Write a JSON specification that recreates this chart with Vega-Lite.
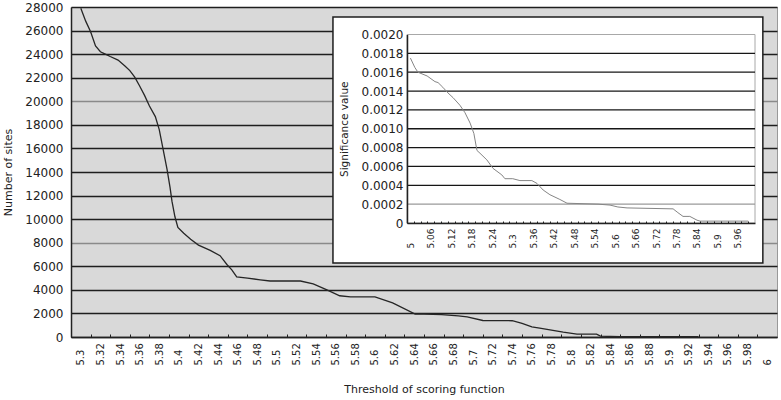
{
  "$schema": "https://vega.github.io/schema/vega-lite/v6.json",
  "width": 706,
  "height": 330,
  "autosize": {"type": "none"},
  "padding": {"left": 71, "top": 7, "right": 4, "bottom": 63},
  "background": "white",
  "config": {
    "view": {"fill": "#d9d9d9", "stroke": "#999999"},
    "font": "DejaVu Sans",
    "axis": {
      "labelFont": "DejaVu Sans",
      "titleFont": "DejaVu Sans",
      "labelColor": "#222222",
      "titleColor": "#222222",
      "titleFontWeight": "normal",
      "domainColor": "#222222",
      "tickColor": "#222222",
      "labelOverlap": false
    }
  },
  "datasets": {
    "main": [
      {"threshold": 5.300, "sites": 27900},
      {"threshold": 5.305, "sites": 26800},
      {"threshold": 5.310, "sites": 25900},
      {"threshold": 5.315, "sites": 24700},
      {"threshold": 5.320, "sites": 24200},
      {"threshold": 5.325, "sites": 24000},
      {"threshold": 5.330, "sites": 23800},
      {"threshold": 5.338, "sites": 23500},
      {"threshold": 5.345, "sites": 23000},
      {"threshold": 5.350, "sites": 22600},
      {"threshold": 5.355, "sites": 22050},
      {"threshold": 5.360, "sites": 21300},
      {"threshold": 5.365, "sites": 20500},
      {"threshold": 5.370, "sites": 19600},
      {"threshold": 5.376, "sites": 18700},
      {"threshold": 5.380, "sites": 17600},
      {"threshold": 5.384, "sites": 15900},
      {"threshold": 5.388, "sites": 14200},
      {"threshold": 5.391, "sites": 12700},
      {"threshold": 5.393, "sites": 11500},
      {"threshold": 5.396, "sites": 10200},
      {"threshold": 5.399, "sites": 9300},
      {"threshold": 5.405, "sites": 8800},
      {"threshold": 5.412, "sites": 8300},
      {"threshold": 5.420, "sites": 7800},
      {"threshold": 5.432, "sites": 7350},
      {"threshold": 5.442, "sites": 6900},
      {"threshold": 5.449, "sites": 6150},
      {"threshold": 5.454, "sites": 5700},
      {"threshold": 5.459, "sites": 5100},
      {"threshold": 5.470, "sites": 5000},
      {"threshold": 5.483, "sites": 4850},
      {"threshold": 5.493, "sites": 4750},
      {"threshold": 5.524, "sites": 4750},
      {"threshold": 5.537, "sites": 4500},
      {"threshold": 5.551, "sites": 4000},
      {"threshold": 5.564, "sites": 3500},
      {"threshold": 5.575, "sites": 3400},
      {"threshold": 5.600, "sites": 3400},
      {"threshold": 5.618, "sites": 2900},
      {"threshold": 5.641, "sites": 1950},
      {"threshold": 5.650, "sites": 1950},
      {"threshold": 5.668, "sites": 1900},
      {"threshold": 5.685, "sites": 1800},
      {"threshold": 5.694, "sites": 1700},
      {"threshold": 5.710, "sites": 1400},
      {"threshold": 5.740, "sites": 1380},
      {"threshold": 5.750, "sites": 1150},
      {"threshold": 5.760, "sites": 850},
      {"threshold": 5.768, "sites": 760},
      {"threshold": 5.792, "sites": 420},
      {"threshold": 5.806, "sites": 250},
      {"threshold": 5.826, "sites": 250},
      {"threshold": 5.830, "sites": 80},
      {"threshold": 5.850, "sites": 20},
      {"threshold": 5.930, "sites": 20}
    ],
    "inset": [
      {"threshold": 5.000, "significance": 0.00175},
      {"threshold": 5.013, "significance": 0.00165},
      {"threshold": 5.022, "significance": 0.00160},
      {"threshold": 5.049, "significance": 0.00156},
      {"threshold": 5.072, "significance": 0.00150},
      {"threshold": 5.081, "significance": 0.00149},
      {"threshold": 5.095, "significance": 0.00144},
      {"threshold": 5.110, "significance": 0.00138},
      {"threshold": 5.125, "significance": 0.00133},
      {"threshold": 5.145, "significance": 0.00125},
      {"threshold": 5.160, "significance": 0.00117},
      {"threshold": 5.175, "significance": 0.00106},
      {"threshold": 5.186, "significance": 0.00095},
      {"threshold": 5.195, "significance": 0.00077},
      {"threshold": 5.204, "significance": 0.00074},
      {"threshold": 5.224, "significance": 0.00067},
      {"threshold": 5.242, "significance": 0.00058},
      {"threshold": 5.268, "significance": 0.00051},
      {"threshold": 5.277, "significance": 0.00047},
      {"threshold": 5.300, "significance": 0.00047},
      {"threshold": 5.321, "significance": 0.00045},
      {"threshold": 5.356, "significance": 0.00045},
      {"threshold": 5.371, "significance": 0.00042},
      {"threshold": 5.389, "significance": 0.00035},
      {"threshold": 5.409, "significance": 0.00030},
      {"threshold": 5.438, "significance": 0.00025},
      {"threshold": 5.459, "significance": 0.00021},
      {"threshold": 5.550, "significance": 0.00020},
      {"threshold": 5.585, "significance": 0.00019},
      {"threshold": 5.608, "significance": 0.00017},
      {"threshold": 5.635, "significance": 0.00016},
      {"threshold": 5.770, "significance": 0.00015},
      {"threshold": 5.784, "significance": 0.00011},
      {"threshold": 5.799, "significance": 0.00007},
      {"threshold": 5.819, "significance": 0.00007},
      {"threshold": 5.840, "significance": 0.00003},
      {"threshold": 5.849, "significance": 0.00002},
      {"threshold": 5.990, "significance": 0.00002}
    ],
    "insetGrid": [
      {"level": 0.0002}, {"level": 0.0004}, {"level": 0.0006}, {"level": 0.0008},
      {"level": 0.0010}, {"level": 0.0012}, {"level": 0.0014}, {"level": 0.0016}, {"level": 0.0018}
    ],
    "one": [{}]
  },
  "layer": [
    {
      "data": {"name": "main"},
      "mark": {"type": "line", "color": "#262626", "strokeWidth": 1.3},
      "encoding": {
        "x": {
          "field": "threshold", "type": "quantitative",
          "scale": {"domain": [5.29, 6.01], "nice": false, "zero": false},
          "axis": {
            "orient": "bottom",
            "title": "Threshold of scoring function",
            "titleFontSize": 11,
            "titlePadding": 18,
            "values": [5.29,5.31,5.33,5.35,5.37,5.39,5.41,5.43,5.45,5.47,5.49,5.51,5.53,5.55,5.57,5.59,5.61,5.63,5.65,5.67,5.69,5.71,5.73,5.75,5.77,5.79,5.81,5.83,5.85,5.87,5.89,5.91,5.93,5.95,5.97,5.99],
            "labelExpr": "format(round((datum.value + 0.01) * 100) / 100, '~g')",
            "labelOffset": 9.8,
            "labelAngle": -90,
            "labelAlign": "left",
            "labelBaseline": "middle",
            "labelFontSize": 10,
            "labelPadding": 31,
            "tickSize": -3,
            "grid": false,
            "labelOverlap": false,
            "labelFlush": false,
            "labelBound": false,
            "domainWidth": 1.5
          }
        },
        "y": {
          "field": "sites", "type": "quantitative",
          "scale": {"domain": [0, 28000], "nice": false},
          "axis": {
            "orient": "left",
            "title": "Number of sites",
            "titleFontSize": 11,
            "titlePadding": 11,
            "values": [0,2000,4000,6000,8000,10000,12000,14000,16000,18000,20000,22000,24000,26000,28000],
            "format": "d",
            "labelFontSize": 12,
            "labelPadding": 8,
            "labelOverlap": false,
            "ticks": false,
            "grid": true,
            "gridWidth": 1.5,
            "gridColor": {"condition": {"test": "datum.value == 20000 || datum.value == 8000", "value": "#8a8a8a"}, "value": "#1e1e1e"},
            "domainWidth": 1.5
          }
        }
      }
    },
    {
      "layer": [
        {
          "data": {"name": "one"},
          "mark": {"type": "rect", "fill": "white", "stroke": "#1e1e1e", "strokeWidth": 1.5},
          "encoding": {
            "x": {"datum": 4.773, "type": "quantitative",
                  "scale": {"domain": [4.99, 6.01], "range": [336, 684], "nice": false, "zero": false},
                  "axis": {
                    "orient": "bottom", "offset": -114, "zindex": 1, "title": null,
                    "values": [4.99,5.01,5.03,5.05,5.07,5.09,5.11,5.13,5.15,5.17,5.19,5.21,5.23,5.25,5.27,5.29,5.31,5.33,5.35,5.37,5.39,5.41,5.43,5.45,5.47,5.49,5.51,5.53,5.55,5.57,5.59,5.61,5.63,5.65,5.67,5.69,5.71,5.73,5.75,5.77,5.79,5.81,5.83,5.85,5.87,5.89,5.91,5.93,5.95,5.97,5.99],
                    "labelExpr": "(round((datum.value + 0.01) * 100) - 500) % 6 == 0 ? format(round((datum.value + 0.01) * 100) / 100, '~g') : ''",
                    "labelOffset": 3.4, "labelAngle": -90, "labelAlign": "left", "labelBaseline": "middle",
                    "labelFontSize": 9, "labelPadding": 27, "tickSize": -2, "grid": false,
                    "labelOverlap": false, "labelFlush": false, "labelBound": false, "domainWidth": 1.5
                  }},
            "x2": {"datum": 6.033},
            "y": {"datum": 0.002186, "type": "quantitative",
                  "scale": {"domain": [0, 0.002], "range": [216, 27.5], "nice": false, "zero": false},
                  "axis": {
                    "orient": "left", "offset": -336, "zindex": 1,
                    "title": "Significance value", "titleFontSize": 10.5, "titlePadding": 12,
                    "values": [0,0.0002,0.0004,0.0006,0.0008,0.001,0.0012,0.0014,0.0016,0.0018,0.002],
                    "labelExpr": "datum.value == 0 ? '0' : format(datum.value, '.4f')",
                    "labelFontSize": 12, "labelPadding": 4, "labelOverlap": false,
                    "ticks": false, "grid": false, "domainWidth": 1.5
                  }},
            "y2": {"datum": -0.000424}
          }
        },
        {
          "data": {"name": "one"},
          "mark": {"type": "rect", "fill": "white", "stroke": "#a8a8a8", "strokeWidth": 1},
          "encoding": {
            "x": {"datum": 4.99, "type": "quantitative",
                  "scale": {"domain": [4.99, 6.01], "range": [336, 684], "nice": false, "zero": false},
                  "axis": {
                    "orient": "bottom", "offset": -114, "zindex": 1, "title": null,
                    "values": [4.99,5.01,5.03,5.05,5.07,5.09,5.11,5.13,5.15,5.17,5.19,5.21,5.23,5.25,5.27,5.29,5.31,5.33,5.35,5.37,5.39,5.41,5.43,5.45,5.47,5.49,5.51,5.53,5.55,5.57,5.59,5.61,5.63,5.65,5.67,5.69,5.71,5.73,5.75,5.77,5.79,5.81,5.83,5.85,5.87,5.89,5.91,5.93,5.95,5.97,5.99],
                    "labelExpr": "(round((datum.value + 0.01) * 100) - 500) % 6 == 0 ? format(round((datum.value + 0.01) * 100) / 100, '~g') : ''",
                    "labelOffset": 3.4, "labelAngle": -90, "labelAlign": "left", "labelBaseline": "middle",
                    "labelFontSize": 9, "labelPadding": 27, "tickSize": -2, "grid": false,
                    "labelOverlap": false, "labelFlush": false, "labelBound": false, "domainWidth": 1.5
                  }},
            "x2": {"datum": 6.01},
            "y": {"datum": 0, "type": "quantitative",
                  "scale": {"domain": [0, 0.002], "range": [216, 27.5], "nice": false, "zero": false},
                  "axis": {
                    "orient": "left", "offset": -336, "zindex": 1,
                    "title": "Significance value", "titleFontSize": 10.5, "titlePadding": 12,
                    "values": [0,0.0002,0.0004,0.0006,0.0008,0.001,0.0012,0.0014,0.0016,0.0018,0.002],
                    "labelExpr": "datum.value == 0 ? '0' : format(datum.value, '.4f')",
                    "labelFontSize": 12, "labelPadding": 4, "labelOverlap": false,
                    "ticks": false, "grid": false, "domainWidth": 1.5
                  }},
            "y2": {"datum": 0.002}
          }
        },
        {
          "data": {"name": "insetGrid"},
          "mark": {"type": "rule", "strokeWidth": 1.3},
          "encoding": {
            "y": {"field": "level", "type": "quantitative",
                  "scale": {"domain": [0, 0.002], "range": [216, 27.5], "nice": false, "zero": false},
                  "axis": {
                    "orient": "left", "offset": -336, "zindex": 1,
                    "title": "Significance value", "titleFontSize": 10.5, "titlePadding": 12,
                    "values": [0,0.0002,0.0004,0.0006,0.0008,0.001,0.0012,0.0014,0.0016,0.0018,0.002],
                    "labelExpr": "datum.value == 0 ? '0' : format(datum.value, '.4f')",
                    "labelFontSize": 12, "labelPadding": 4, "labelOverlap": false,
                    "ticks": false, "grid": false, "domainWidth": 1.5
                  }},
            "x": {"datum": 4.99, "type": "quantitative",
                  "scale": {"domain": [4.99, 6.01], "range": [336, 684], "nice": false, "zero": false},
                  "axis": {
                    "orient": "bottom", "offset": -114, "zindex": 1, "title": null,
                    "values": [4.99,5.01,5.03,5.05,5.07,5.09,5.11,5.13,5.15,5.17,5.19,5.21,5.23,5.25,5.27,5.29,5.31,5.33,5.35,5.37,5.39,5.41,5.43,5.45,5.47,5.49,5.51,5.53,5.55,5.57,5.59,5.61,5.63,5.65,5.67,5.69,5.71,5.73,5.75,5.77,5.79,5.81,5.83,5.85,5.87,5.89,5.91,5.93,5.95,5.97,5.99],
                    "labelExpr": "(round((datum.value + 0.01) * 100) - 500) % 6 == 0 ? format(round((datum.value + 0.01) * 100) / 100, '~g') : ''",
                    "labelOffset": 3.4, "labelAngle": -90, "labelAlign": "left", "labelBaseline": "middle",
                    "labelFontSize": 9, "labelPadding": 27, "tickSize": -2, "grid": false,
                    "labelOverlap": false, "labelFlush": false, "labelBound": false, "domainWidth": 1.5
                  }},
            "x2": {"datum": 6.01},
            "color": {"condition": {"test": "datum.level < 0.0003", "value": "#9a9a9a"}, "value": "#161616"}
          }
        },
        {
          "data": {"name": "inset"},
          "mark": {"type": "line", "color": "#858585", "strokeWidth": 1},
          "encoding": {
            "x": {
              "field": "threshold", "type": "quantitative",
              "scale": {"domain": [4.99, 6.01], "range": [336, 684], "nice": false, "zero": false},
              "axis": {
                "orient": "bottom", "offset": -114, "zindex": 1, "title": null,
                "values": [4.99,5.01,5.03,5.05,5.07,5.09,5.11,5.13,5.15,5.17,5.19,5.21,5.23,5.25,5.27,5.29,5.31,5.33,5.35,5.37,5.39,5.41,5.43,5.45,5.47,5.49,5.51,5.53,5.55,5.57,5.59,5.61,5.63,5.65,5.67,5.69,5.71,5.73,5.75,5.77,5.79,5.81,5.83,5.85,5.87,5.89,5.91,5.93,5.95,5.97,5.99],
                "labelExpr": "(round((datum.value + 0.01) * 100) - 500) % 6 == 0 ? format(round((datum.value + 0.01) * 100) / 100, '~g') : ''",
                "labelOffset": 3.4, "labelAngle": -90, "labelAlign": "left", "labelBaseline": "middle",
                "labelFontSize": 9, "labelPadding": 27, "tickSize": -2, "grid": false,
                "labelOverlap": false, "labelFlush": false, "labelBound": false, "domainWidth": 1.5
              }
            },
            "y": {
              "field": "significance", "type": "quantitative",
              "scale": {"domain": [0, 0.002], "range": [216, 27.5], "nice": false, "zero": false},
              "axis": {
                "orient": "left", "offset": -336, "zindex": 1,
                "title": "Significance value", "titleFontSize": 10.5, "titlePadding": 12,
                "values": [0,0.0002,0.0004,0.0006,0.0008,0.001,0.0012,0.0014,0.0016,0.0018,0.002],
                "labelExpr": "datum.value == 0 ? '0' : format(datum.value, '.4f')",
                "labelFontSize": 12, "labelPadding": 4, "labelOverlap": false,
                "ticks": false, "grid": false, "domainWidth": 1.5
              }
            }
          }
        }
      ]
    }
  ],
  "resolve": {
    "scale": {"x": "independent", "y": "independent"},
    "axis": {"x": "independent", "y": "independent"}
  }
}
